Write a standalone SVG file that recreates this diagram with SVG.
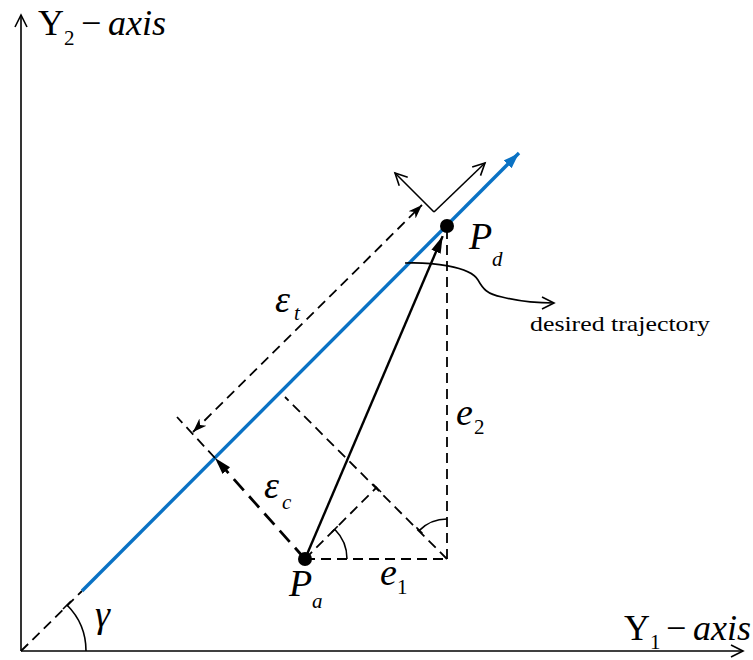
<svg xmlns="http://www.w3.org/2000/svg" width="753" height="660" viewBox="0 0 753 660">
<style>
.ax{fill:none;stroke:#000;stroke-width:1.6}
.dash{fill:none;stroke:#000;stroke-width:1.8;stroke-dasharray:10 6}
.dashthick{fill:none;stroke:#000;stroke-width:2.8;stroke-dasharray:15 8}
.solid{fill:none;stroke:#000;stroke-width:2.4}
.thin{fill:none;stroke:#000;stroke-width:1.6}
.blue{fill:none;stroke:#0A72C4;stroke-width:3.4}
.m{font-family:"Liberation Serif","Times New Roman",serif;font-size:38px;fill:#000}
.axl{font-size:36px}
.i{font-style:italic}
.sub{font-size:21px}
.lbl{font-family:"Liberation Serif","Times New Roman",serif;font-size:22px;fill:#000}
</style>
<defs>
<marker id="fillArrow" markerUnits="userSpaceOnUse" markerWidth="18" markerHeight="12" refX="17" refY="6" orient="auto">
<path d="M0,1 L17,6 L0,11 z" fill="#000"/>
</marker>
<marker id="blueArrow" markerUnits="userSpaceOnUse" markerWidth="18" markerHeight="12" refX="16" refY="6" orient="auto">
<path d="M0,0.5 L16,6 L0,11.5 z" fill="#0A72C4"/>
</marker>
<marker id="notchArrow" markerUnits="userSpaceOnUse" markerWidth="16" markerHeight="12" refX="14" refY="6" orient="auto-start-reverse">
<path d="M0,1 L14,6 L0,11 L4,6 z" fill="#000"/>
</marker>
<marker id="openArrow" markerUnits="userSpaceOnUse" markerWidth="16" markerHeight="16" refX="13" refY="7" orient="auto">
<path d="M1,1 L13,7 L1,13" fill="none" stroke="#000" stroke-width="1.6"/>
</marker>
</defs>

<g id="axes">
<path class="ax" d="M21,651 L21,15" marker-end="url(#openArrow)"/>
<path class="ax" d="M21,651 L743,651" marker-end="url(#openArrow)"/>
</g>

<g id="connectors">
<path class="dash" d="M21,651 L82,591"/>
<path class="blue" d="M82,591 L519,153" marker-end="url(#blueArrow)"/>
<path class="dash" d="M305,559 L447,559"/>
<path class="dash" d="M447,559 L447,226"/>
<path class="dash" d="M447,559 L285,397"/>
<path class="dash" d="M305,559 L377,487"/>
<path class="solid" d="M305,559 L442.7,236.1" marker-end="url(#fillArrow)"/>
<path class="dashthick" d="M305,559 L215,458" marker-end="url(#fillArrow)"/>
<path class="dash" d="M215,458 L177,417"/>
<path class="dash" d="M193,432 L422,205" marker-start="url(#notchArrow)" marker-end="url(#notchArrow)"/>
<path class="thin" d="M434,212 L395,173" marker-end="url(#openArrow)"/>
<path class="thin" d="M434,212 L485,163" marker-end="url(#openArrow)"/>
<path class="thin" d="M405,263 C430,262 470,266 478,280 C483,289 487,294 502,297 C518,301 536,303 554,303" marker-end="url(#openArrow)"/>
<path class="thin" d="M86,651 A65,65 0 0 0 67,605"/>
<path class="thin" d="M63,609 L71,601"/>
<path class="thin" d="M347,559 A42,42 0 0 0 334.7,529.3"/>
<path class="thin" d="M331.7,532.3 L337.7,526.3"/>
<path class="thin" d="M447,519 A39,39 0 0 0 419.4,530.4"/>
<path class="thin" d="M416.4,527.4 L422.4,533.4"/>
<path class="thin" d="M373,484 L381,492"/>
</g>

<g id="Pd">
<circle cx="447" cy="226" r="7" fill="#000"/>
<text class="m i" x="469" y="249">P</text>
<text class="m i sub" x="492" y="266">d</text>
</g>
<g id="Pa">
<circle cx="305" cy="559" r="7" fill="#000"/>
<text class="m i" x="289" y="596">P</text>
<text class="m i sub" x="312" y="608">a</text>
</g>

<g id="labels">
<text class="m axl" x="38" y="35">Y</text>
<text class="m sub" x="64" y="45">2</text>
<text class="m axl" x="81" y="35">−</text>
<text class="m axl i" x="108" y="35">axis</text>

<text class="m axl" x="624" y="640">Y</text>
<text class="m sub" x="650" y="649">1</text>
<text class="m axl" x="666" y="640">−</text>
<text class="m axl i" x="693" y="640">axis</text>

<text class="m i" x="95" y="627">γ</text>

<text class="m i" x="275" y="312">ε</text>
<text class="m i sub" x="294" y="320">t</text>

<text class="m i" x="264" y="498">ε</text>
<text class="m i sub" x="282" y="509">c</text>

<text class="m i" x="456" y="425">e</text>
<text class="m sub" x="474" y="434">2</text>

<text class="m i" x="380" y="585">e</text>
<text class="m sub" x="397" y="594">1</text>

<text class="lbl" x="530" y="331" textLength="180" lengthAdjust="spacingAndGlyphs">desired trajectory</text>
</g>
</svg>
